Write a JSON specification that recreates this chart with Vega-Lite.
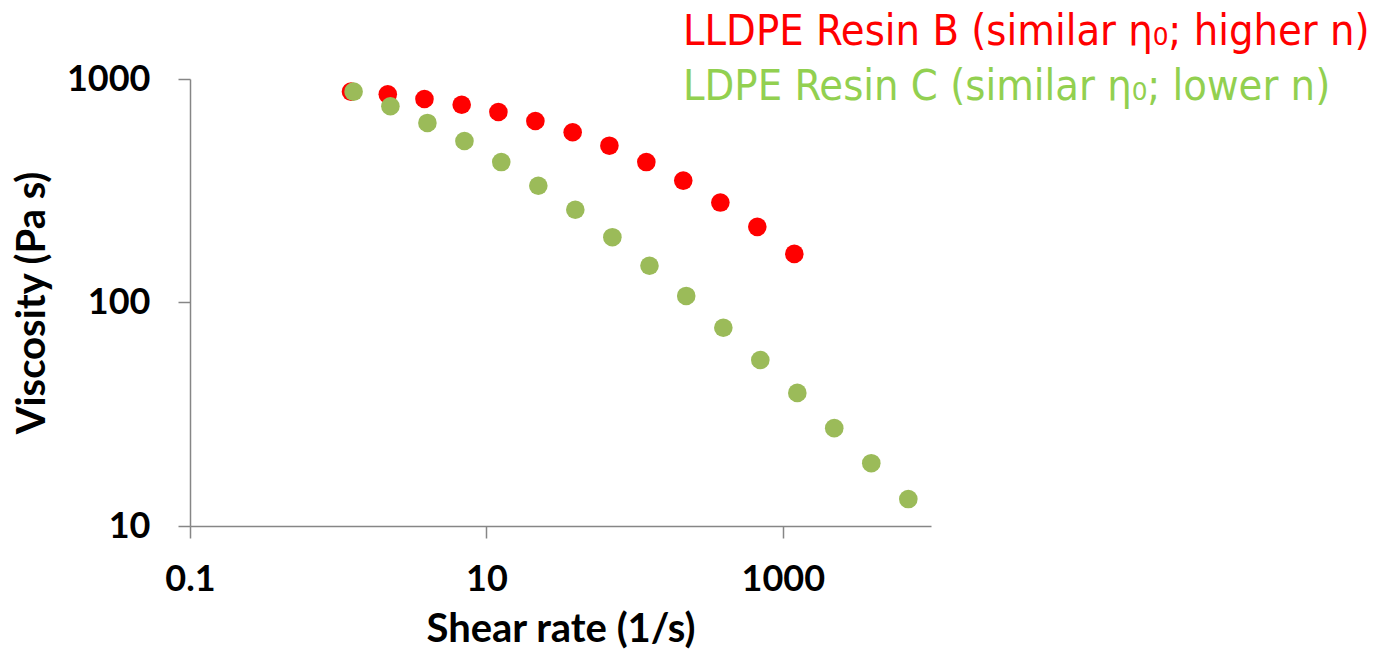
{
  "$schema": "https://vega.github.io/schema/vega-lite/v6.json",
  "width": 741,
  "height": 447,
  "autosize": {"type": "none"},
  "padding": {"left": 190, "top": 79, "right": 450, "bottom": 126},
  "background": "white",
  "title": {
    "text": "LLDPE Resin B (similar η₀; higher n)",
    "subtitle": "LDPE Resin C (similar η₀; lower n)",
    "anchor": "start",
    "frame": "group",
    "dx": 493,
    "dy": 52,
    "color": "#FF0000",
    "subtitleColor": "#92D050",
    "font": "DejaVu Sans Condensed, Roboto, sans-serif",
    "subtitleFont": "DejaVu Sans Condensed, Roboto, sans-serif",
    "fontSize": 43,
    "subtitleFontSize": 43,
    "fontWeight": "normal",
    "subtitleFontWeight": "normal",
    "subtitlePadding": 12
  },
  "data": {
    "values": [
      {"series": "LLDPE Resin B", "shear": 1.22, "visc": 878},
      {"series": "LLDPE Resin B", "shear": 2.16, "visc": 854},
      {"series": "LLDPE Resin B", "shear": 3.82, "visc": 814},
      {"series": "LLDPE Resin B", "shear": 6.81, "visc": 767},
      {"series": "LLDPE Resin B", "shear": 12.05, "visc": 712},
      {"series": "LLDPE Resin B", "shear": 21.4, "visc": 649},
      {"series": "LLDPE Resin B", "shear": 38.2, "visc": 578},
      {"series": "LLDPE Resin B", "shear": 67.6, "visc": 503},
      {"series": "LLDPE Resin B", "shear": 120, "visc": 425},
      {"series": "LLDPE Resin B", "shear": 213, "visc": 351},
      {"series": "LLDPE Resin B", "shear": 379, "visc": 280},
      {"series": "LLDPE Resin B", "shear": 673, "visc": 218},
      {"series": "LLDPE Resin B", "shear": 1196, "visc": 165},
      {"series": "LDPE Resin C", "shear": 1.27, "visc": 878},
      {"series": "LDPE Resin C", "shear": 2.25, "visc": 755},
      {"series": "LDPE Resin C", "shear": 4.0, "visc": 636},
      {"series": "LDPE Resin C", "shear": 7.11, "visc": 528},
      {"series": "LDPE Resin C", "shear": 12.6, "visc": 425},
      {"series": "LDPE Resin C", "shear": 22.4, "visc": 333},
      {"series": "LDPE Resin C", "shear": 39.8, "visc": 260},
      {"series": "LDPE Resin C", "shear": 70.8, "visc": 196},
      {"series": "LDPE Resin C", "shear": 126, "visc": 146},
      {"series": "LDPE Resin C", "shear": 223, "visc": 107},
      {"series": "LDPE Resin C", "shear": 397, "visc": 77.1},
      {"series": "LDPE Resin C", "shear": 705, "visc": 55.3},
      {"series": "LDPE Resin C", "shear": 1253, "visc": 39.4},
      {"series": "LDPE Resin C", "shear": 2224, "visc": 27.4},
      {"series": "LDPE Resin C", "shear": 3954, "visc": 19.1},
      {"series": "LDPE Resin C", "shear": 7030, "visc": 13.2}
    ]
  },
  "mark": {"type": "point", "filled": true, "opacity": 1, "size": 346, "shape": "circle"},
  "encoding": {
    "x": {
      "field": "shear",
      "type": "quantitative",
      "scale": {"type": "log", "domain": [0.1, 10000], "nice": false},
      "axis": {"values": [0.1, 10, 1000], "format": "~g", "title": "Shear rate (1/s)", "labelPadding": 24, "titlePadding": 12, "labelFlush": false}
    },
    "y": {
      "field": "visc",
      "type": "quantitative",
      "scale": {"type": "log", "domain": [10, 1000], "nice": false},
      "axis": {"values": [10, 100, 1000], "format": "~g", "title": "Viscosity (Pa s)", "labelPadding": 28, "titlePadding": 14, "labelFlush": false}
    },
    "color": {
      "field": "series",
      "type": "nominal",
      "scale": {"domain": ["LLDPE Resin B", "LDPE Resin C"], "range": ["#FF0000", "#9BBB59"]},
      "legend": null
    }
  },
  "config": {
    "view": {"stroke": null},
    "axis": {
      "grid": false,
      "domainColor": "#868686",
      "domainWidth": 1.5,
      "tickColor": "#868686",
      "tickWidth": 1.5,
      "tickSize": 12,
      "labelFont": "Lato",
      "labelFontWeight": "bold",
      "labelFontSize": 36,
      "labelColor": "#000000",
      "titleFont": "Lato",
      "titleFontWeight": "bold",
      "titleFontSize": 40,
      "titleColor": "#000000"
    }
  }
}
